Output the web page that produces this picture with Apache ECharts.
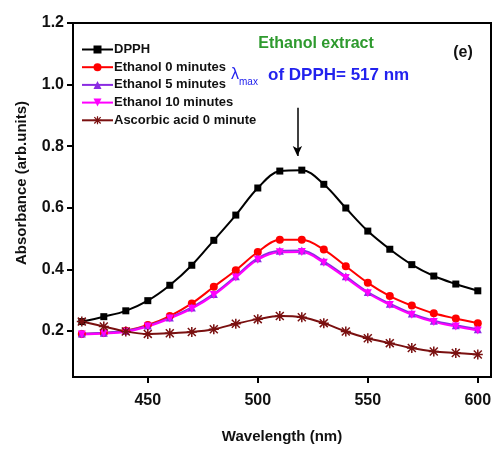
<!DOCTYPE html>
<html>
<head>
<meta charset="utf-8">
<script src="https://cdn.jsdelivr.net/npm/echarts@6/dist/echarts.min.js"></script>
<style>html,body{margin:0;padding:0;background:#fff}#c{width:498px;height:454px}</style>
</head>
<body>
<div id="c"></div>
<script>
const wavelengths = [420,430,440,450,460,470,480,490,500,510,520,530,540,550,560,570,580,590,600];
const dpph  = [0.230,0.246,0.265,0.298,0.348,0.413,0.494,0.576,0.664,0.719,0.722,0.676,0.599,0.524,0.465,0.415,0.378,0.352,0.330];
const eth0  = [0.190,0.193,0.200,0.219,0.248,0.289,0.343,0.397,0.456,0.496,0.496,0.464,0.410,0.356,0.313,0.282,0.257,0.240,0.225];
const eth5  = [0.191,0.194,0.200,0.217,0.243,0.276,0.320,0.377,0.436,0.460,0.461,0.426,0.377,0.326,0.288,0.256,0.233,0.218,0.205];
const eth10 = [0.188,0.191,0.197,0.214,0.240,0.272,0.316,0.373,0.431,0.455,0.456,0.421,0.372,0.322,0.284,0.252,0.229,0.214,0.201];
const asc   = [0.230,0.214,0.198,0.190,0.192,0.196,0.205,0.223,0.238,0.248,0.244,0.225,0.198,0.176,0.160,0.144,0.133,0.128,0.123];
const seriesNames = ['DPPH','Ethanol 0 minutes','Ethanol 5 minutes','Ethanol 10 minutes','Ascorbic acid 0 minute'];
const xTicks = [450,500,550,600];
const yTicks = [0.2,0.4,0.6,0.8,1.0,1.2];

const FONT = '"Liberation Sans", Arial, sans-serif';
const star = 'path://M8.5,0L11.5,0L11.5,20L8.5,20Z M0,8.5L20,8.5L20,11.5L0,11.5Z M1,3.1L3.1,1L19,16.9L16.9,19Z M16.9,1L19,3.1L3.1,19L1,16.9Z';
const invTri = 'path://M0,0L20,0L10,17Z';

function mk(name, data, color, symbol, size, extra) {
  return Object.assign({
    name: name, type: 'line', smooth: 0.35,
    data: wavelengths.map((w,i)=>[w, data[i]]),
    symbol: symbol, symbolSize: size,
    lineStyle: {color: color, width: 2},
    itemStyle: {color: color},
    emphasis: {disabled: true}
  }, extra || {});
}

const chart = echarts.init(document.getElementById('c'));
chart.setOption({
  animation: false,
  grid: {left: 73, right: 7, top: 23, bottom: 77, show: true, borderColor: '#000', borderWidth: 2},
  legend: {
    orient: 'vertical', left: 76, top: 38, itemWidth: 31, itemHeight: 10, itemGap: 4.7,
    textStyle: {fontFamily: FONT, fontWeight: 'bold', fontSize: 13, color: '#111', padding: [0,0,0,-4]},
    data: seriesNames
  },
  xAxis: {
    type: 'value', min: 416, max: 606,
    axisLine: {show: true, lineStyle: {color: '#000', width: 2}},
    axisTick: {show: true, length: 6, inside: false, customValues: xTicks, lineStyle: {color: '#000', width: 2}},
    axisLabel: {customValues: xTicks, fontFamily: FONT, fontWeight: 'bold', fontSize: 16, color: '#111', margin: 16},
    splitLine: {show: false},
    name: 'Wavelength (nm)', nameLocation: 'middle', nameGap: 52,
    nameTextStyle: {fontFamily: FONT, fontWeight: 'bold', fontSize: 15, color: '#111'}
  },
  yAxis: {
    type: 'value', min: 0.05, max: 1.2,
    axisLine: {show: true, lineStyle: {color: '#000', width: 2}},
    axisTick: {show: true, length: 6, inside: false, customValues: yTicks, lineStyle: {color: '#000', width: 2}},
    axisLabel: {customValues: yTicks, formatter: v => v.toFixed(1), fontFamily: FONT, fontWeight: 'bold', fontSize: 16, color: '#111', margin: 9},
    splitLine: {show: false}
  },
  graphic: [
    {type: 'text', x: 22, y: 183, rotation: Math.PI/2, style: {text: 'Absorbance (arb.units)', fontFamily: FONT, fontWeight: 'bold', fontSize: 15, fill: '#111', align: 'center', verticalAlign: 'middle'}},
    {type: 'text', x: 316, y: 44, style: {text: 'Ethanol extract', fontFamily: FONT, fontWeight: 'bold', fontSize: 16, fill: '#2e9a2e', align: 'center', verticalAlign: 'middle'}},
    {type: 'text', x: 231, y: 75, style: {text: '{l|λ}{s|max}', rich: {l: {fontFamily: FONT, fontSize: 16, fill: '#2222ee', verticalAlign: 'middle'}, s: {fontFamily: FONT, fontSize: 10, fill: '#2222ee', padding: [14,0,0,0]}}, verticalAlign: 'middle'}},
    {type: 'text', x: 268, y: 75, style: {text: 'of DPPH= 517 nm', fontFamily: FONT, fontWeight: 'bold', fontSize: 17, fill: '#2222ee', verticalAlign: 'middle'}},
    {type: 'text', x: 463, y: 53, style: {text: '(e)', fontFamily: FONT, fontWeight: 'bold', fontSize: 16, fill: '#111', align: 'center', verticalAlign: 'middle'}}
  ],
  series: [
    mk(seriesNames[0], dpph, '#000000', 'rect', 7, {
      markLine: {
        silent: true, symbol: ['none','arrow'], symbolSize: [7,10],
        label: {show: false},
        lineStyle: {color: '#000', width: 1.5, type: 'solid'},
        data: [[{coord: [518, 0.925]}, {coord: [518, 0.768]}]]
      }
    }),
    mk(seriesNames[1], eth0, '#ff0000', 'circle', 8),
    mk(seriesNames[2], eth5, '#8a2be2', 'triangle', 8),
    mk(seriesNames[3], eth10, '#ff00ff', invTri, 8),
    mk(seriesNames[4], asc, '#7a1010', star, 10)
  ]
});
</script>
</body>
</html>
